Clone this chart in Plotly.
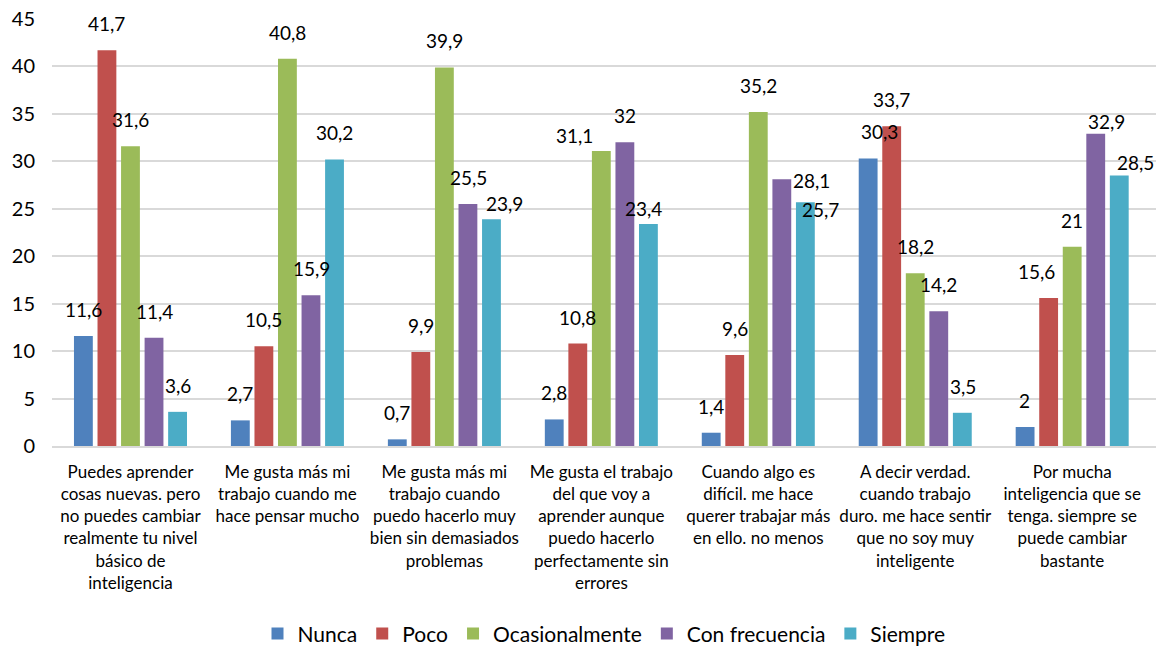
import plotly.graph_objects as go

categories = [
    "Puedes aprender<br>cosas nuevas. pero<br>no puedes cambiar<br>realmente tu nivel<br>básico de<br>inteligencia",
    "Me gusta más mi<br>trabajo cuando me<br>hace pensar mucho",
    "Me gusta más mi<br>trabajo cuando<br>puedo hacerlo muy<br>bien sin demasiados<br>problemas",
    "Me gusta el trabajo<br>del que voy a<br>aprender aunque<br>puedo hacerlo<br>perfectamente sin<br>errores",
    "Cuando algo es<br>difícil. me hace<br>querer trabajar más<br>en ello. no menos",
    "A decir verdad.<br>cuando trabajo<br>duro. me hace sentir<br>que no soy muy<br>inteligente",
    "Por mucha<br>inteligencia que se<br>tenga. siempre se<br>puede cambiar<br>bastante",
]

nunca = [11.6, 2.7, 0.7, 2.8, 1.4, 30.3, 2]
poco = [41.7, 10.5, 9.9, 10.8, 9.6, 33.7, 15.6]
ocasionalmente = [31.6, 40.8, 39.9, 31.1, 35.2, 18.2, 21]
con_frecuencia = [11.4, 15.9, 25.5, 32, 28.1, 14.2, 32.9]
siempre = [3.6, 30.2, 23.9, 23.4, 25.7, 3.5, 28.5]

series = [
    ("Nunca", nunca, "#4F81BD"),
    ("Poco", poco, "#C0504D"),
    ("Ocasionalmente", ocasionalmente, "#9BBB59"),
    ("Con frecuencia", con_frecuencia, "#8064A2"),
    ("Siempre", siempre, "#4BACC6"),
]

FONT = "Lato"
WIDTH, HEIGHT = 1168, 648
MARGIN = dict(l=52, r=12, t=19, b=202)
BARGAP = 0.25

# hand-placed labels moved aside to avoid neighbours: (series, category) -> (dx, dy) px
label_nudge = {
    (2, 3): (-27, -11),
    (4, 3): (-5, -11),
    (4, 2): (13, -11),
    (0, 5): (12, 0),
    (3, 4): (30, -28),
    (4, 4): (15, -34),
    (1, 6): (-12, 0),
    (3, 6): (11, -14),
    (4, 6): (16, -13),
}


def fmt(v):
    # decimal comma
    return f"{v:g}".replace(".", ",")


fig = go.Figure()
for name, vals, color in series:
    fig.add_trace(go.Bar(
        x=categories,
        y=vals,
        name=name,
        marker=dict(color=color, line=dict(width=0)),
    ))

# value labels: centred over each bar of the group
plot_w = WIDTH - MARGIN["l"] - MARGIN["r"]
cat_w = plot_w / len(categories)
slot_w = cat_w * (1 - BARGAP) / len(series)
for si, (name, vals, color) in enumerate(series):
    offset = (si - (len(series) - 1) / 2) * slot_w
    for ci, v in enumerate(vals):
        dx, dy = label_nudge.get((si, ci), (0, 0))
        fig.add_annotation(
            x=categories[ci],
            y=v,
            xref="x",
            yref="y",
            text=fmt(v),
            showarrow=False,
            xanchor="center",
            yanchor="bottom",
            xshift=offset + dx,
            yshift=13 + dy,
            font=dict(family=FONT, size=19, color="#000000"),
        )

fig.update_layout(
    width=WIDTH,
    height=HEIGHT,
    margin=dict(MARGIN, autoexpand=False),
    paper_bgcolor="white",
    plot_bgcolor="white",
    barmode="group",
    bargap=BARGAP,
    bargroupgap=0.2,
    font=dict(family=FONT, color="#000000"),
    showlegend=True,
    legend=dict(
        orientation="h",
        x=0.5,
        xanchor="center",
        yref="container",
        y=0.022,
        yanchor="middle",
        font=dict(family=FONT, size=21, color="#000000"),
        itemwidth=30,
    ),
    xaxis=dict(
        automargin=False,
        showgrid=False,
        showline=True,
        linecolor="#D9D9D9",
        linewidth=1.5,
        ticks="outside",
        ticklen=10,
        tickcolor="rgba(0,0,0,0)",
        tickfont=dict(family=FONT, size=17, color="#000000"),
        tickangle=0,
    ),
    yaxis=dict(
        automargin=False,
        range=[0, 45],
        dtick=5,
        showgrid=True,
        gridcolor="#D9D9D9",
        gridwidth=1.5,
        zeroline=False,
        showline=False,
        ticks="outside",
        ticklen=12,
        tickcolor="rgba(0,0,0,0)",
        tickfont=dict(family=FONT, size=20, color="#000000"),
    ),
)

fig.write_html("out.html")
